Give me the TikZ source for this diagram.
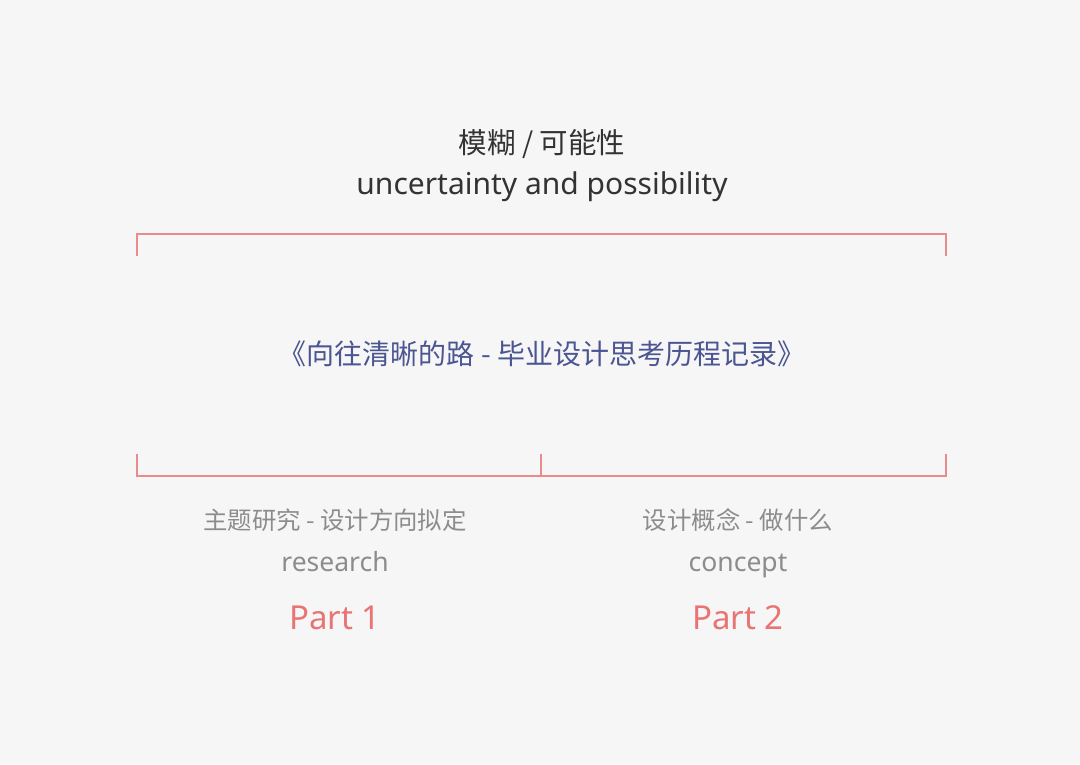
\documentclass[tikz,border=0pt]{standalone}
\usepackage{fontspec}
\setmainfont{Noto Sans CJK SC}
\newfontfamily\latinfont{Noto Sans}
\definecolor{bgc}{HTML}{F6F6F6}
\definecolor{bracketc}{HTML}{E88C8C}
\definecolor{titlec}{HTML}{4B5591}
\definecolor{greyc}{HTML}{8C8C8C}
\definecolor{partc}{HTML}{E87474}
\definecolor{darkc}{HTML}{333333}
\begin{document}
\begin{tikzpicture}[x=1pt,y=-1pt,
  txt/.style={inner sep=0pt,anchor=center},
  lat/.style={inner sep=0pt,anchor=base},
  brk/.style={bracketc,line width=1.6pt}]
\fill[bgc] (0,0) rectangle (1080,764);
\useasboundingbox (0,0) rectangle (1080,764);
\node[txt,darkc,font=\fontsize{28.5}{30}\selectfont] (head) at (542,144) {模糊 / 可能性};
\node[lat,darkc,font=\latinfont\fontsize{30}{32}\selectfont] (headen) at (542,194) {uncertainty and possibility};
\draw[brk] (137,256) -- (137,234) -- (946,234) -- (946,256);
\node[txt,titlec,font=\fontsize{28}{30}\selectfont] (title) at (542,354) {《向往清晰的路 - 毕业设计思考历程记录》};
\draw[brk] (137,454) -- (137,476) -- (946,476) -- (946,454);
\draw[brk] (541,454) -- (541,476);
\node[txt,greyc,font=\fontsize{24.4}{30}\selectfont] (cnone) at (335,520) {主题研究 - 设计方向拟定};
\node[lat,greyc,font=\latinfont\fontsize{26.5}{30}\selectfont] (enone) at (335,571) {research};
\node[lat,partc,font=\latinfont\fontsize{33}{36}\selectfont] (partone) at (335,629) {Part 1};
\node[txt,greyc,font=\fontsize{24.4}{30}\selectfont] (cntwo) at (738,520) {设计概念 - 做什么};
\node[lat,greyc,font=\latinfont\fontsize{26.5}{30}\selectfont] (entwo) at (738,571) {concept};
\node[lat,partc,font=\latinfont\fontsize{33}{36}\selectfont] (parttwo) at (738,629) {Part 2};
\end{tikzpicture}
\end{document}
